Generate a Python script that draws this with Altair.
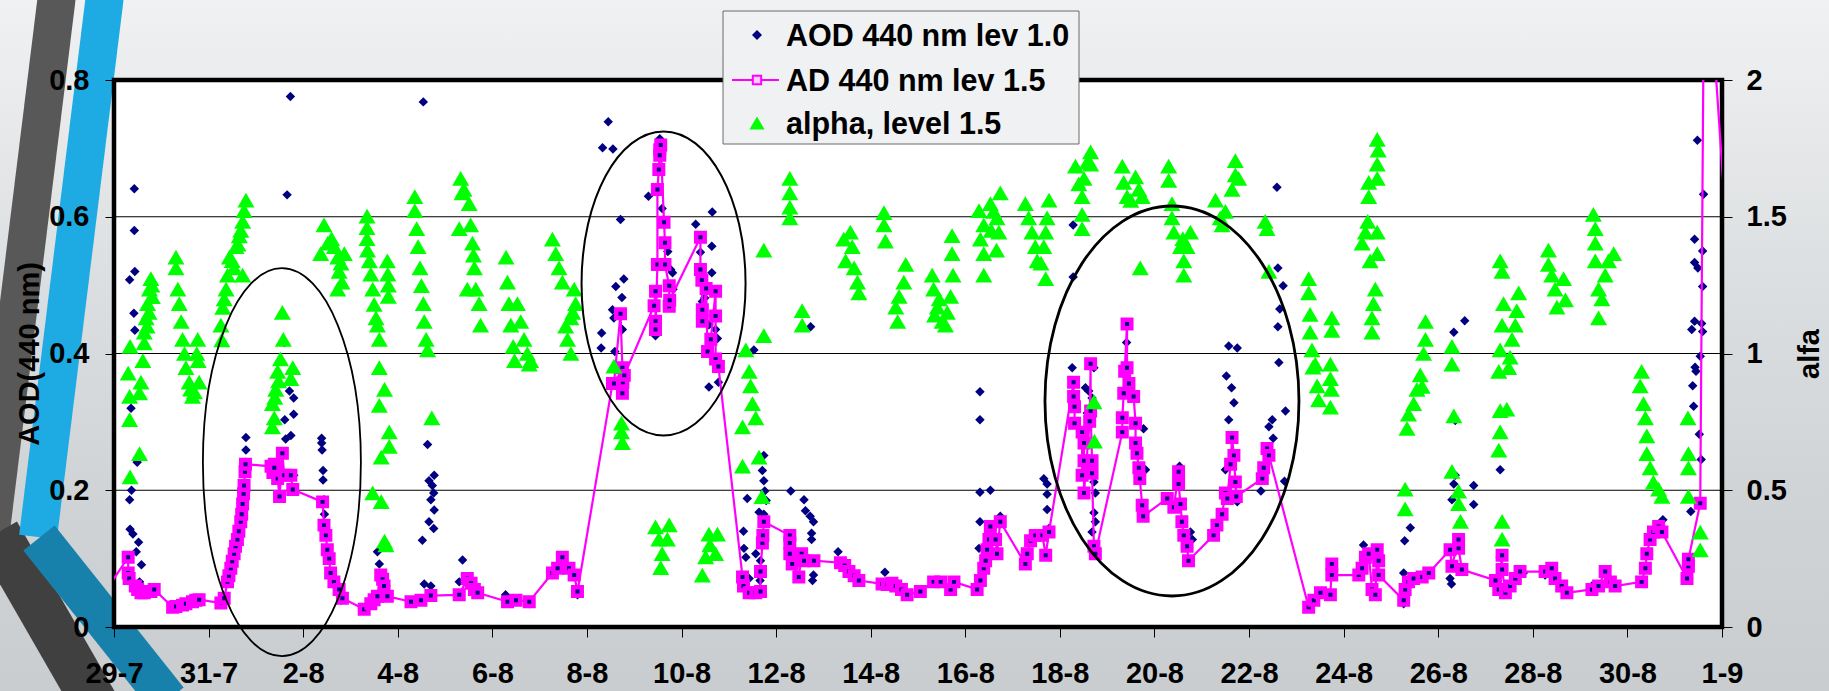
import altair as alt
import pandas as pd

# ---------------- data ----------------
START = pd.Timestamp("2008-07-29")   # day 0 = 29-7

x_ticks = ["2008-07-29", "2008-07-31", "2008-08-02", "2008-08-04", "2008-08-06",
           "2008-08-08", "2008-08-10", "2008-08-12", "2008-08-14", "2008-08-16",
           "2008-08-18", "2008-08-20", "2008-08-22", "2008-08-24", "2008-08-26",
           "2008-08-28", "2008-08-30", "2008-09-01"]
aod_ticks = [0, 0.2, 0.4, 0.6, 0.8]
alfa_ticks = [0, 0.5, 1, 1.5, 2]
grid_aod = [0.2, 0.4, 0.6]
series_names = ["AOD 440 nm lev 1.0", "AD 440 nm lev 1.5", "alpha, level 1.5"]

# (day since 29-7, AOD 440) navy diamonds
aod10_pts = [
    (0.33, 0.508), (0.43, 0.641), (0.43, 0.580), (0.44, 0.520), (0.42, 0.459), (0.44, 0.434),
    (0.36, 0.320), (0.49, 0.241), (0.37, 0.200), (0.33, 0.186), (0.34, 0.143), (0.40, 0.136),
    (0.52, 0.124), (0.47, 0.110), (0.58, 0.091), (0.54, 0.066),
    (2.79, 0.277), (2.79, 0.259), (2.79, 0.241),
    (3.73, 0.776), (3.66, 0.632), (3.71, 0.345), (3.80, 0.335), (3.80, 0.311), (3.61, 0.303),
    (3.74, 0.280), (3.63, 0.275), (3.80, 0.222), (3.60, 0.416),
    (4.39, 0.276), (4.39, 0.269), (4.40, 0.259), (4.42, 0.229), (4.42, 0.215), (4.44, 0.186),
    (4.45, 0.165), (4.46, 0.134), (4.48, 0.107), (4.80, 0.039),
    (5.57, 0.110), (5.61, 0.092), (5.68, 0.076), (5.75, 0.060), (5.50, 0.045),
    (6.54, 0.768), (6.63, 0.267), (6.77, 0.222), (6.66, 0.214), (6.73, 0.207), (6.76, 0.196),
    (6.70, 0.186), (6.77, 0.171), (6.66, 0.154), (6.76, 0.144), (6.52, 0.127), (6.56, 0.063),
    (6.70, 0.060), (7.37, 0.098), (7.30, 0.066), (8.28, 0.047),
    (8.78, 0.034), (9.80, 0.047), (10.45, 0.739), (10.33, 0.701), (10.55, 0.699), (10.71, 0.596),
    (11.30, 0.630), (10.61, 0.498), (10.78, 0.509), (10.74, 0.482), (10.54, 0.464), (10.57, 0.452),
    (10.75, 0.435), (10.31, 0.430), (10.30, 0.408), (10.59, 0.403), (11.45, 0.426), (11.54, 0.714),
    (11.59, 0.612), (11.71, 0.549), (11.77, 0.523), (11.81, 0.518), (11.82, 0.494), (12.30, 0.589),
    (12.65, 0.607), (12.64, 0.557), (12.40, 0.548), (12.64, 0.518), (12.49, 0.481), (12.44, 0.476),
    (12.58, 0.442), (12.72, 0.435), (12.76, 0.422), (12.58, 0.351), (12.78, 0.358), (12.79, 0.385),
    (13.53, 0.405), (13.31, 0.140), (13.39, 0.188), (13.32, 0.115), (13.36, 0.102), (13.43, 0.071),
    (13.57, 0.107), (13.67, 0.097), (13.66, 0.068), (13.74, 0.251), (13.71, 0.229), (13.74, 0.214),
    (13.76, 0.199), (13.79, 0.185), (13.64, 0.168), (13.74, 0.165), (14.31, 0.199), (14.59, 0.186),
    (14.62, 0.170), (14.72, 0.162), (14.79, 0.154), (14.75, 0.137), (14.75, 0.128), (14.78, 0.098),
    (14.79, 0.076), (14.77, 0.068), (14.73, 0.439), (15.31, 0.110), (16.30, 0.080),
    (18.31, 0.344), (18.31, 0.303), (18.31, 0.197), (18.53, 0.200), (18.31, 0.154), (18.29, 0.115),
    (18.74, 0.162), (19.66, 0.217), (19.73, 0.209), (19.73, 0.194), (19.73, 0.172), (19.77, 0.144),
    (20.28, 0.588), (20.28, 0.512), (20.26, 0.379), (20.54, 0.350), (20.61, 0.345), (20.72, 0.379),
    (20.68, 0.335), (20.58, 0.313), (20.61, 0.293), (20.72, 0.212), (20.75, 0.196), (20.72, 0.167),
    (20.75, 0.154), (20.68, 0.139), (20.75, 0.113), (21.41, 0.416), (21.77, 0.290), (21.81, 0.230),
    (22.53, 0.235), (22.76, 0.139), (22.80, 0.128), (23.57, 0.411), (23.75, 0.408), (23.52, 0.367),
    (23.63, 0.350), (23.68, 0.328), (23.57, 0.303), (23.50, 0.230), (23.75, 0.183), (24.59, 0.643),
    (24.61, 0.525), (24.72, 0.499), (24.65, 0.465), (24.61, 0.439), (24.63, 0.387), (24.77, 0.316),
    (24.49, 0.303), (24.42, 0.293), (24.51, 0.276), (24.25, 0.199), (24.75, 0.213),
    (26.42, 0.120), (26.74, 0.076), (27.27, 0.034), (27.27, 0.079), (27.29, 0.126), (27.41, 0.145),
    (28.33, 0.431), (28.56, 0.448), (28.36, 0.302), (28.36, 0.222), (28.33, 0.209), (28.29, 0.186),
    (28.75, 0.207), (28.75, 0.179), (28.47, 0.154), (28.25, 0.071), (28.28, 0.063), (29.31, 0.230),
    (29.31, 0.102), (29.80, 0.079), (30.26, 0.076), (31.25, 0.060), (32.75, 0.157), (33.48, 0.712),
    (33.61, 0.633), (33.42, 0.567), (33.59, 0.550), (33.42, 0.533), (33.49, 0.525), (33.59, 0.498),
    (33.42, 0.447), (33.57, 0.444), (33.36, 0.435), (33.59, 0.432), (33.54, 0.396), (33.43, 0.380),
    (33.45, 0.374), (33.38, 0.353), (33.40, 0.323), (33.52, 0.282), (33.56, 0.245), (33.34, 0.169),
    (33.28, 0.071),
]

# (day, AOD 440 lev 1.5) magenta line with squares, in drawing order
aod15_pts = [
    (-0.25, 0.045), (0.30, 0.102), (0.30, 0.079), (0.32, 0.071), (0.45, 0.060), (0.50, 0.055),
    (0.57, 0.050), (0.64, 0.050), (0.71, 0.052), (0.78, 0.052), (0.85, 0.055), (1.24, 0.029),
    (1.31, 0.030), (1.45, 0.032), (1.52, 0.034), (1.66, 0.037), (1.73, 0.039), (1.80, 0.040),
    (2.26, 0.035), (2.33, 0.042), (2.40, 0.066), (2.43, 0.075), (2.47, 0.086), (2.50, 0.096),
    (2.54, 0.107), (2.57, 0.118), (2.61, 0.128), (2.64, 0.140), (2.68, 0.154), (2.70, 0.165),
    (2.72, 0.180), (2.74, 0.195), (2.75, 0.207), (2.77, 0.227), (2.78, 0.238), (3.32, 0.235),
    (3.36, 0.226), (3.39, 0.238), (3.39, 0.233), (3.46, 0.217), (3.50, 0.191), (3.56, 0.254),
    (3.60, 0.222), (3.74, 0.222), (3.78, 0.201), (4.41, 0.183), (4.44, 0.149), (4.48, 0.134),
    (4.51, 0.113), (4.55, 0.100), (4.58, 0.079), (4.65, 0.066), (4.76, 0.055), (4.83, 0.042),
    (5.29, 0.026), (5.43, 0.034), (5.50, 0.040), (5.57, 0.045), (5.64, 0.076), (5.68, 0.070),
    (5.71, 0.060), (5.78, 0.045), (6.28, 0.037), (6.49, 0.039), (6.70, 0.046), (7.30, 0.047),
    (7.47, 0.071), (7.55, 0.064), (7.62, 0.055), (7.69, 0.050), (8.32, 0.037), (8.50, 0.039),
    (8.78, 0.037), (9.27, 0.079), (9.38, 0.086), (9.48, 0.102), (9.62, 0.086), (9.73, 0.076),
    (9.80, 0.052), (10.54, 0.356), (10.57, 0.356), (10.71, 0.458), (10.75, 0.379), (10.75, 0.342),
    (10.76, 0.358), (10.79, 0.368), (11.42, 0.470), (11.45, 0.491), (11.45, 0.447), (11.45, 0.435),
    (11.49, 0.530), (11.49, 0.640), (11.52, 0.669), (11.54, 0.698), (11.54, 0.690), (11.56, 0.705),
    (11.63, 0.592), (11.65, 0.562), (11.65, 0.530), (11.74, 0.499), (11.74, 0.469), (11.75, 0.478),
    (12.40, 0.570), (12.40, 0.523), (12.43, 0.507), (12.44, 0.464), (12.44, 0.447), (12.52, 0.495),
    (12.55, 0.403), (12.62, 0.421), (12.72, 0.491), (12.72, 0.455), (12.72, 0.392), (12.78, 0.381),
    (13.29, 0.073), (13.31, 0.060), (13.43, 0.050), (13.57, 0.050), (13.67, 0.052), (13.67, 0.081),
    (13.71, 0.123), (13.72, 0.134), (13.74, 0.154), (14.29, 0.134), (14.29, 0.123), (14.29, 0.107),
    (14.34, 0.092), (14.48, 0.073), (14.54, 0.107), (14.59, 0.097), (14.80, 0.097), (15.36, 0.094),
    (15.45, 0.090), (15.54, 0.081), (15.65, 0.075), (15.75, 0.068), (16.24, 0.063), (16.35, 0.062),
    (16.45, 0.064), (16.53, 0.060), (16.65, 0.055), (16.77, 0.047), (17.05, 0.052), (17.33, 0.066),
    (17.48, 0.066), (17.69, 0.055), (17.76, 0.066), (18.25, 0.055), (18.32, 0.068), (18.39, 0.086),
    (18.43, 0.097), (18.46, 0.113), (18.50, 0.128), (18.53, 0.147), (18.64, 0.128), (18.67, 0.107),
    (18.74, 0.154), (19.27, 0.092), (19.31, 0.107), (19.38, 0.126), (19.48, 0.134), (19.63, 0.134),
    (19.70, 0.105), (19.77, 0.139), (20.29, 0.358), (20.29, 0.337), (20.31, 0.322), (20.31, 0.298),
    (20.47, 0.285), (20.47, 0.222), (20.51, 0.269), (20.51, 0.243), (20.51, 0.196), (20.63, 0.301),
    (20.65, 0.385), (20.65, 0.316), (20.68, 0.243), (20.68, 0.225), (20.72, 0.118), (20.75, 0.107),
    (21.32, 0.285), (21.32, 0.306), (21.35, 0.342), (21.37, 0.374), (21.42, 0.443), (21.42, 0.379),
    (21.46, 0.356), (21.56, 0.337), (21.60, 0.298), (21.60, 0.269), (21.63, 0.254), (21.67, 0.233),
    (21.69, 0.217), (21.74, 0.178), (21.76, 0.162), (22.27, 0.188), (22.41, 0.175), (22.51, 0.227),
    (22.51, 0.209), (22.55, 0.180), (22.58, 0.154), (22.62, 0.134), (22.69, 0.118), (22.72, 0.097),
    (23.25, 0.134), (23.32, 0.149), (23.43, 0.165), (23.50, 0.196), (23.54, 0.188), (23.61, 0.238),
    (23.64, 0.277), (23.68, 0.251), (23.71, 0.212), (23.73, 0.191), (24.28, 0.217), (24.31, 0.233),
    (24.38, 0.261), (24.42, 0.251), (25.26, 0.029), (25.37, 0.039), (25.51, 0.050), (25.72, 0.047),
    (25.75, 0.092), (25.75, 0.076), (26.32, 0.076), (26.39, 0.086), (26.46, 0.102), (26.53, 0.107),
    (26.60, 0.055), (26.67, 0.047), (26.71, 0.113), (26.74, 0.097), (26.74, 0.076), (27.27, 0.039),
    (27.30, 0.055), (27.37, 0.066), (27.48, 0.071), (27.66, 0.073), (27.80, 0.079), (28.25, 0.113),
    (28.29, 0.089), (28.43, 0.128), (28.43, 0.115), (28.50, 0.084), (29.21, 0.068), (29.28, 0.055),
    (29.35, 0.105), (29.35, 0.084), (29.42, 0.050), (29.52, 0.060), (29.63, 0.071), (29.73, 0.081),
    (30.26, 0.081), (30.40, 0.086), (30.47, 0.071), (30.61, 0.060), (30.72, 0.050), (31.25, 0.055),
    (31.39, 0.060), (31.53, 0.081), (31.64, 0.066), (31.74, 0.060), (32.30, 0.066), (32.38, 0.086),
    (32.41, 0.107), (32.48, 0.128), (32.55, 0.139), (32.66, 0.147), (32.73, 0.139), (33.26, 0.071),
    (33.29, 0.089), (33.29, 0.099), (33.54, 0.181), (33.63, 1.054), (34.09, 0.584),
]

# (day, alpha lev 1.5) green triangles, right axis
alpha_pts = [
    (0.33, 0.758), (0.33, 0.843), (0.30, 0.928), (0.34, 1.026), (0.34, 0.549), (0.54, 0.634),
    (0.54, 0.856), (0.57, 0.895), (0.61, 0.974), (0.64, 1.039), (0.64, 1.078), (0.68, 1.130),
    (0.71, 1.182), (0.75, 1.235), (0.78, 1.274), (0.81, 1.208), (0.70, 1.100), (0.74, 1.150),
    (0.80, 1.250),
    (1.31, 1.352), (1.31, 1.313), (1.35, 1.235), (1.38, 1.182), (1.42, 1.117), (1.45, 1.052),
    (1.49, 1.000), (1.52, 0.948), (1.59, 0.895), (1.66, 0.843), (1.77, 1.052), (1.78, 0.974),
    (1.80, 0.895), (1.62, 0.870), (1.70, 0.860), (1.75, 1.000),
    (2.26, 1.104), (2.30, 1.169), (2.37, 1.235), (2.40, 1.287), (2.44, 1.352), (2.54, 1.313),
    (2.58, 1.391), (2.65, 1.430), (2.72, 1.483), (2.75, 1.522), (2.79, 1.561), (2.72, 1.287),
    (2.28, 1.050), (2.33, 1.200), (2.50, 1.340), (2.62, 1.400), (2.68, 1.450),
    (3.56, 1.150), (3.58, 1.052), (3.46, 0.935), (3.78, 0.948), (3.42, 0.869), (3.74, 0.908),
    (3.35, 0.817), (3.39, 0.765), (3.35, 0.732), (3.52, 0.980), (3.48, 0.900), (3.40, 0.840),
    (4.44, 1.470), (4.52, 1.404), (4.37, 1.365), (4.66, 1.391), (4.73, 1.352), (4.76, 1.300),
    (4.82, 1.261), (4.73, 1.235), (4.87, 1.365), (4.60, 1.420), (4.80, 1.330),
    (5.35, 1.502), (5.35, 1.460), (5.35, 1.420), (5.36, 1.378), (5.40, 1.339), (5.43, 1.290),
    (5.47, 1.235), (5.50, 1.180), (5.54, 1.130), (5.57, 1.104), (5.61, 1.052), (5.78, 1.339),
    (5.79, 1.290), (5.80, 1.250), (5.80, 1.209), (5.61, 0.948), (5.72, 0.869), (5.61, 0.810),
    (5.82, 0.713), (5.82, 0.660), (5.65, 0.621), (5.47, 0.490), (5.65, 0.458), (5.72, 0.314),
    (5.75, 0.300),
    (6.36, 1.574), (6.36, 1.522), (6.40, 1.457), (6.43, 1.391), (6.47, 1.313), (6.50, 1.248),
    (6.54, 1.182), (6.56, 1.117), (6.60, 1.052), (6.63, 1.013), (6.72, 0.765),
    (7.33, 1.640), (7.36, 1.587), (7.51, 1.548), (7.30, 1.457), (7.54, 1.470), (7.58, 1.404),
    (7.62, 1.313), (7.47, 1.235), (7.65, 1.235), (7.72, 1.182), (7.75, 1.104), (7.40, 1.600),
    (7.60, 1.360),
    (8.29, 1.352), (8.32, 1.261), (8.35, 1.182), (8.39, 1.104), (8.44, 1.026), (8.47, 0.974),
    (8.53, 1.182), (8.60, 1.117), (8.67, 1.052), (8.74, 1.000), (8.81, 0.974), (8.78, 0.961),
    (9.27, 1.418), (9.34, 1.365), (9.41, 1.313), (9.48, 1.261), (9.73, 1.235), (9.76, 1.182),
    (9.66, 1.130), (9.59, 1.052), (9.66, 1.000), (9.55, 1.100), (9.70, 1.150),
    (10.57, 0.954), (10.73, 0.745), (10.73, 0.713), (10.75, 0.674),
    (11.45, 0.366), (11.52, 0.321), (11.59, 0.268), (11.56, 0.217), (11.74, 0.373), (11.70, 0.321),
    (12.58, 0.340), (12.76, 0.340), (12.51, 0.256), (12.72, 0.268), (12.44, 0.190), (12.60, 0.300),
    (13.74, 1.378), (13.74, 1.065), (13.36, 1.013), (13.43, 0.935), (13.46, 0.882), (13.50, 0.817),
    (13.57, 0.765), (13.29, 0.732), (13.29, 0.588), (13.64, 0.621), (13.70, 0.477),
    (14.29, 1.640), (14.29, 1.587), (14.29, 1.535), (14.29, 1.496), (14.55, 1.157), (14.55, 1.104),
    (15.43, 1.418), (15.57, 1.444), (15.61, 1.391), (15.47, 1.339), (15.65, 1.313), (15.72, 1.261),
    (15.75, 1.222), (16.28, 1.515), (16.28, 1.470), (16.31, 1.411), (16.74, 1.326), (16.70, 1.261),
    (16.60, 1.209), (16.53, 1.170), (16.57, 1.117),
    (17.30, 1.287), (17.33, 1.235), (17.41, 1.170), (17.51, 1.117), (17.58, 1.104), (17.72, 1.431),
    (17.72, 1.365), (17.74, 1.287), (17.69, 1.209), (17.62, 1.150), (17.45, 1.200), (17.35, 1.140),
    (18.29, 1.522), (18.39, 1.470), (18.32, 1.418), (18.39, 1.365), (18.39, 1.287), (18.53, 1.548),
    (18.74, 1.587), (18.67, 1.496), (18.71, 1.444), (18.66, 1.378), (18.55, 1.450), (18.60, 1.520),
    (19.27, 1.548), (19.34, 1.496), (19.41, 1.444), (19.48, 1.391), (19.52, 1.339), (19.70, 1.274),
    (19.77, 1.561), (19.73, 1.496), (19.70, 1.444), (19.66, 1.391), (19.60, 1.330),
    (20.33, 1.685), (20.65, 1.737), (20.65, 1.692), (20.51, 1.640), (20.47, 1.574), (20.47, 1.509),
    (20.47, 1.457), (20.58, 1.700), (20.40, 1.620), (20.72, 0.823), (20.73, 0.680),
    (21.32, 1.685), (21.35, 1.626), (21.42, 1.574), (21.60, 1.646), (21.67, 1.600), (21.74, 1.574),
    (21.50, 1.560), (21.70, 1.313),
    (22.30, 1.685), (22.30, 1.633), (22.37, 1.548), (22.37, 1.496), (22.41, 1.444), (22.55, 1.391),
    (22.62, 1.339), (22.62, 1.287), (22.76, 1.444), (22.69, 1.391), (22.60, 1.420),
    (23.29, 1.561), (23.39, 1.496), (23.43, 1.470), (23.71, 1.705), (23.71, 1.653), (23.64, 1.600),
    (23.78, 1.640), (23.50, 1.520),
    (24.34, 1.483), (24.38, 1.457), (24.42, 1.300),
    (25.26, 1.274), (25.26, 1.222), (25.29, 1.143), (25.29, 1.078), (25.33, 1.013), (25.40, 0.961),
    (25.44, 0.882), (25.47, 0.830), (25.35, 0.950),
    (25.75, 1.130), (25.75, 1.085), (25.72, 0.961), (25.72, 0.908), (25.74, 0.869), (25.72, 0.804),
    (26.71, 1.783), (26.73, 1.744), (26.71, 1.692), (26.71, 1.640), (26.53, 1.626), (26.53, 1.574),
    (26.51, 1.483), (26.46, 1.444), (26.39, 1.404), (26.71, 1.444), (26.71, 1.365), (26.56, 1.339),
    (26.67, 1.235), (26.63, 1.182), (26.60, 1.130), (26.60, 1.078),
    (27.30, 0.504), (27.30, 0.432), (27.73, 1.117), (27.73, 1.052), (27.69, 1.000), (27.62, 0.922),
    (27.55, 0.869), (27.48, 0.817), (27.37, 0.778), (27.34, 0.726), (27.66, 0.880),
    (28.29, 1.026), (28.29, 0.961), (28.33, 0.772), (28.29, 0.569), (28.43, 0.497), (28.43, 0.451),
    (28.47, 0.386),
    (29.31, 1.339), (29.35, 1.300), (29.38, 1.182), (29.35, 1.104), (29.31, 1.013), (29.28, 0.935),
    (29.31, 0.791), (29.45, 0.797), (29.31, 0.713), (29.28, 0.647), (29.35, 0.386), (29.35, 0.321),
    (29.70, 1.222), (29.66, 1.157), (29.63, 1.104), (29.56, 1.052), (29.52, 0.987), (29.49, 0.948),
    (30.33, 1.378), (30.33, 1.326), (30.40, 1.287), (30.47, 1.235), (30.51, 1.170), (30.65, 1.274),
    (30.69, 1.196),
    (31.28, 1.509), (31.32, 1.457), (31.32, 1.404), (31.32, 1.339), (31.39, 1.235), (31.39, 1.130),
    (31.60, 1.339), (31.71, 1.365), (31.53, 1.287), (31.46, 1.200),
    (32.30, 0.935), (32.27, 0.882), (32.34, 0.817), (32.38, 0.765), (32.41, 0.699), (32.41, 0.634),
    (32.48, 0.582), (32.55, 0.530), (32.66, 0.504), (32.73, 0.478),
    (33.28, 0.765), (33.29, 0.634), (33.29, 0.582), (33.29, 0.478), (33.54, 0.347), (33.54, 0.282),
]

# annotation ellipses: centre day, centre AOD
ellipse_day = [3.55, 11.62, 22.37]
ellipse_aod = [0.241, 0.5025, 0.3305]

# ---------------- layout / style ----------------
W, H = 1608, 547
PAD_L, PAD_T = 114, 80
FONT = "Liberation Sans"
NAVY, MAGENTA, GREEN = "#000080", "#ff00ff", "#00ff00"
ELL_GEOM = [(79, 194, 1.8), (82, 152, 2.0), (127, 195, 2.8)]  # half-w px, half-h px, stroke
# legend box geometry (page pixels)
LEG_BOX = (723, 11, 1079, 144)
LEG_ROWS = [35, 80, 123]
LEG_SYM_X, LEG_TXT_X = 757, 786


def iso(day):
    return (START + pd.to_timedelta(day, unit="D")).strftime("%Y-%m-%dT%H:%M:%S")


def dt(s):
    y, m, d = (int(p) for p in s.split("-"))
    return alt.DateTime(year=y, month=m, date=d)


def px(x):
    return alt.value(x - PAD_L)


def py(y):
    return alt.value(y - PAD_T)


def ellipse_path(ratio):
    k = 0.5523
    a = ratio
    f = lambda v: f"{v:.4f}"
    return (f"M {f(a)} 0 C {f(a)} {f(k)} {f(a*k)} 1 0 1 "
            f"C {f(-a*k)} 1 {f(-a)} {f(k)} {f(-a)} 0 "
            f"C {f(-a)} {f(-k)} {f(-a*k)} -1 0 -1 "
            f"C {f(a*k)} -1 {f(a)} {f(-k)} {f(a)} 0 Z")


df10 = pd.DataFrame({"t": [iso(d) for d, _ in aod10_pts], "v": [v for _, v in aod10_pts]})
df15 = pd.DataFrame({"t": [iso(d) for d, _ in aod15_pts], "v": [v for _, v in aod15_pts],
                     "day": [d for d, _ in aod15_pts], "i": list(range(len(aod15_pts)))})
df15_pts = df15[(df15["v"] <= 0.8) & (df15["day"] >= 0) & (df15["day"] <= 34)]
dfa = pd.DataFrame({"t": [iso(d) for d, _ in alpha_pts], "a": [v for _, v in alpha_pts]})
dfg = pd.DataFrame({"v": grid_aod})
one = pd.DataFrame({"k": [0]})

x_axis = alt.Axis(values=[dt(s) for s in x_ticks], format="%-d-%-m", title=None,
                  labelFont=FONT, labelFontSize=29, labelFontWeight="bold", labelColor="black",
                  labelPadding=22, labelFlush=False, labelOverlap=False,
                  tickColor="black", tickSize=10, tickWidth=1, domain=False, grid=False, zindex=1)
X = alt.X("t:T", scale=alt.Scale(domain=[dt(x_ticks[0]), dt(x_ticks[-1])], nice=False), axis=x_axis)

left_axis = alt.Axis(values=aod_ticks, format="~g", orient="left", title="AOD(440 nm)",
                     titleFont=FONT, titleFontSize=29, titleFontWeight="bold", titleColor="black",
                     titlePadding=4, labelFont=FONT, labelFontSize=29, labelFontWeight="bold",
                     labelColor="black", labelPadding=16, tickSize=9, tickColor="black",
                     tickWidth=1, domain=False, grid=False, zindex=1)
YL = alt.Y("v:Q", scale=alt.Scale(domain=[0, 0.8], nice=False, zero=False), axis=left_axis)

right_axis = alt.Axis(values=alfa_ticks, format="~g", orient="right", title="alfa",
                      titleAngle=270, titleBaseline="top", titlePadding=9,
                      titleFont=FONT, titleFontSize=29, titleFontWeight="bold", titleColor="black",
                      labelFont=FONT, labelFontSize=29, labelFontWeight="bold", labelColor="black",
                      labelPadding=14, tickSize=10, tickColor="black", tickWidth=1,
                      domain=False, grid=False, zindex=1)
YR = alt.Y("a:Q", scale=alt.Scale(domain=[0, 2], nice=False, zero=False), axis=right_axis)

YT = alt.Y("v:Q", scale=alt.Scale(domain=[0, 0.8], nice=False, zero=False), axis=None)

# ---------------- decoration (slide background) ----------------
bg = alt.Chart(one).mark_rect(fill={
    "gradient": "linear", "x1": 0, "x2": 0, "y1": 0, "y2": 1,
    "stops": [{"offset": 0, "color": "#f0f1f2"}, {"offset": 0.4, "color": "#dcdfe1"},
              {"offset": 0.7, "color": "#d0d4d6"}, {"offset": 1, "color": "#c9cdd0"}]
}).encode(x=px(0), x2=px(1829), y=py(0), y2=py(691))


def stripe(x1, y1, x2, y2, w, c):
    return alt.Chart(one).mark_rule(stroke=c, strokeWidth=w).encode(
        x=px(x1), y=py(y1), x2=px(x2), y2=py(y2))


stripes = [
    stripe(57, -5, -9, 530, 38, "#585858"),
    stripe(-3, 533, 96, 705, 46, "#404040"),
    stripe(105, -5, 38, 537, 38, "#1eaae2"),
    stripe(39, 538, 168, 700, 40, "#1781ac"),
]

plot_bg = alt.Chart(one).mark_rect(fill="white", stroke="black", strokeWidth=4.5).encode(
    x=alt.value(0), x2=alt.value(W), y=alt.value(0), y2=alt.value(H))

# ---------------- data layers ----------------
grid = alt.Chart(dfg).mark_rule(color="black", strokeWidth=1).encode(y=YL)

diamonds = alt.Chart(df10).mark_point(shape="diamond", size=90, filled=True, color=NAVY,
                                      opacity=1, strokeWidth=0, clip=True).encode(x=X, y=YL)

line15 = alt.Chart(df15).mark_line(color=MAGENTA, strokeWidth=2.2, clip=True).encode(
    x=X, y=YL, order=alt.Order("i:Q"))

squares = alt.Chart(df15_pts).mark_point(shape="square", size=72, filled=True, fill=NAVY,
                                         stroke=MAGENTA, strokeWidth=4.5, opacity=1,
                                         clip=True).encode(x=X, y=YL)

left_group = alt.layer(grid, diamonds, line15, squares)

triangles = alt.Chart(dfa).mark_point(shape="triangle-up", size=290, filled=True, color=GREEN,
                                      opacity=1, strokeWidth=0, clip=True).encode(x=X, y=YR)

ell_layers = []
for i, (hw, hh, sw) in enumerate(ELL_GEOM):
    dfe = pd.DataFrame({"t": [iso(ellipse_day[i])], "v": [ellipse_aod[i]]})
    ell_layers.append(
        alt.Chart(dfe).mark_point(shape=ellipse_path(hw / hh), size=4 * hh * hh, filled=False,
                                  color="black", strokeWidth=sw, opacity=1).encode(x=X, y=YT))

top_group = alt.layer(*ell_layers)

# ---------------- legend (drawn box, as in the slide) ----------------
x0, y0, x1, y1 = LEG_BOX
leg = [alt.Chart(one).mark_rect(fill="#eff1f2", stroke="#6a6a6a", strokeWidth=1).encode(
    x=px(x0), x2=px(x1), y=py(y0), y2=py(y1))]
for name, ry in zip(series_names, LEG_ROWS):
    leg.append(alt.Chart(one).mark_text(text=name, align="left", baseline="middle", font=FONT,
                                        fontSize=30.5, fontWeight="bold", color="black").encode(
        x=px(LEG_TXT_X), y=py(ry + 2)))
leg.append(alt.Chart(one).mark_point(shape="diamond", size=100, filled=True, color=NAVY,
                                     opacity=1, strokeWidth=0).encode(
    x=px(LEG_SYM_X), y=py(LEG_ROWS[0])))
leg.append(alt.Chart(one).mark_rule(color=MAGENTA, strokeWidth=2).encode(
    x=px(LEG_SYM_X - 25), x2=px(LEG_SYM_X + 22), y=py(LEG_ROWS[1])))
leg.append(alt.Chart(one).mark_point(shape="square", size=70, filled=True, fill="#fbcdfb",
                                     stroke=MAGENTA, strokeWidth=2, opacity=1).encode(
    x=px(LEG_SYM_X), y=py(LEG_ROWS[1])))
leg.append(alt.Chart(one).mark_point(shape="triangle-up", size=230, filled=True, color=GREEN,
                                     opacity=1, strokeWidth=0).encode(
    x=px(LEG_SYM_X), y=py(LEG_ROWS[2])))

chart = alt.layer(bg, *stripes, plot_bg, left_group, triangles, top_group, *leg).resolve_scale(
    y="independent"
).properties(
    width=W, height=H,
    autosize=alt.AutoSizeParams(type="none"),
    padding={"left": PAD_L, "top": PAD_T, "right": 1829 - PAD_L - W, "bottom": 691 - PAD_T - H},
    background="#e1e4e6",
).configure_view(stroke="transparent")

chart.save("out.html", embed_options={"renderer": "svg", "actions": False})
